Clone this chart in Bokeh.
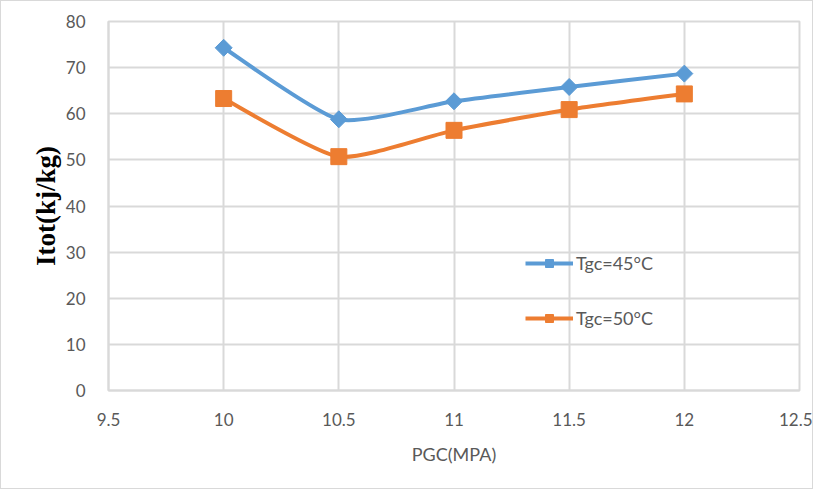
import numpy as np
from bokeh.plotting import figure
from bokeh.models import (Range1d, Legend, LegendItem, FixedTicker,
                          PrintfTickFormatter, ColumnDataSource)
from bokeh.embed import file_html
from bokeh.resources import INLINE

# ---- data ----
pgc = [10, 10.5, 11, 11.5, 12]
itot_45 = [74.3, 58.8, 62.7, 65.8, 68.7]
itot_50 = [63.3, 50.7, 56.4, 60.9, 64.3]
label_45 = "Tgc=45°C"
label_50 = "Tgc=50°C"
x_ticks = [9.5, 10, 10.5, 11, 11.5, 12, 12.5]
y_ticks = [0, 10, 20, 30, 40, 50, 60, 70, 80]

BLUE = "#5B9BD5"
ORANGE = "#ED7D31"
GRID = "#d9d9d9"
TXT = "#595959"


def smooth_segments(xs, ys, t=0.1):
    """Bezier control points (Excel-like smoothing) computed from the data."""
    xs = np.asarray(xs, float)
    ys = np.asarray(ys, float)
    px = np.concatenate([[xs[0]], xs, [xs[-1]]])
    py = np.concatenate([[ys[0]], ys, [ys[-1]]])
    d = dict(x0=[], y0=[], x1=[], y1=[], cx0=[], cy0=[], cx1=[], cy1=[])
    for i in range(len(xs) - 1):
        d["x0"].append(px[i + 1]); d["y0"].append(py[i + 1])
        d["x1"].append(px[i + 2]); d["y1"].append(py[i + 2])
        d["cx0"].append(px[i + 1] + (px[i + 2] - px[i]) * t)
        d["cy0"].append(py[i + 1] + (py[i + 2] - py[i]) * t)
        d["cx1"].append(px[i + 2] - (px[i + 3] - px[i + 1]) * t)
        d["cy1"].append(py[i + 2] - (py[i + 3] - py[i + 1]) * t)
    return ColumnDataSource(d)


p = figure(width=813, height=489, output_backend="svg", toolbar_location=None,
           x_range=Range1d(9.5, 12.5), y_range=Range1d(0, 80),
           min_border_left=107, min_border_right=15,
           min_border_top=20, min_border_bottom=100)
p.styles = {"border": "1px solid #d9d9d9"}

p.outline_line_color = GRID
p.outline_line_width = 2
for ax in (p.xaxis[0], p.yaxis[0]):
    ax.axis_line_color = GRID
    ax.axis_line_width = 2
    ax.major_tick_line_color = None
    ax.minor_tick_line_color = None
    ax.major_label_text_color = TXT
    ax.major_label_text_font = "Lato"
    ax.major_label_text_font_size = "17px"
p.xaxis.major_label_standoff = 16
p.yaxis.major_label_standoff = 17

p.xaxis.ticker = FixedTicker(ticks=x_ticks)
p.yaxis.ticker = FixedTicker(ticks=y_ticks)
p.xaxis.formatter = PrintfTickFormatter(format="%g")
p.yaxis.formatter = PrintfTickFormatter(format="%g")

p.xaxis.axis_label = "PGC(MPA)"
p.xaxis.axis_label_text_font = "Lato"
p.xaxis.axis_label_text_font_size = "18px"
p.xaxis.axis_label_text_font_style = "normal"
p.xaxis.axis_label_text_color = TXT
p.xaxis.axis_label_standoff = 14

p.yaxis.axis_label = "Itot(kj/kg)"
p.yaxis.axis_label_text_font = "Liberation Serif"
p.yaxis.axis_label_text_font_size = "27px"
p.yaxis.axis_label_text_font_style = "bold"
p.yaxis.axis_label_text_color = "black"
p.yaxis.axis_label_standoff = 2

p.xgrid.ticker = FixedTicker(ticks=x_ticks)
p.ygrid.ticker = FixedTicker(ticks=y_ticks)
p.grid.grid_line_color = GRID
p.grid.grid_line_width = 2

src45 = smooth_segments(pgc, itot_45)
src50 = smooth_segments(pgc, itot_50)

l45 = p.bezier(x0="x0", y0="y0", x1="x1", y1="y1", cx0="cx0", cy0="cy0",
               cx1="cx1", cy1="cy1", source=src45, line_color=BLUE, line_width=4)
m45 = p.scatter(pgc, itot_45, marker="square", angle=np.pi / 4, size=12,
                fill_color=BLUE, line_color=BLUE)
l50 = p.bezier(x0="x0", y0="y0", x1="x1", y1="y1", cx0="cx0", cy0="cy0",
               cx1="cx1", cy1="cy1", source=src50, line_color=ORANGE, line_width=4)
m50 = p.scatter(pgc, itot_50, marker="square", size=16,
                fill_color=ORANGE, line_color=ORANGE)

legend = Legend(items=[LegendItem(label=label_45, renderers=[l45, m45]),
                       LegendItem(label=label_50, renderers=[l50, m50])],
                location=(417, 61), orientation="vertical",
                background_fill_alpha=0, border_line_color=None,
                padding=0, margin=0, spacing=33,
                glyph_width=48, glyph_height=20, label_standoff=3,
                label_text_font="Lato", label_text_font_size="18px",
                label_text_color=TXT)
p.add_layout(legend)

open("out.html", "w").write(file_html(p, INLINE))
